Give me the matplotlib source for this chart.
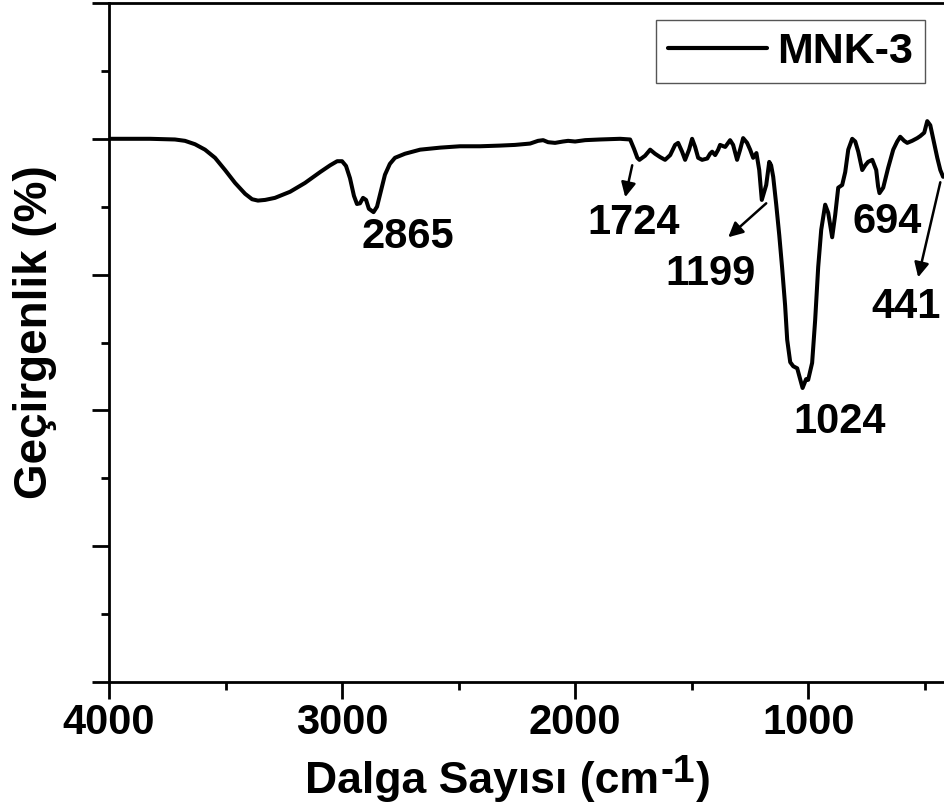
import matplotlib
matplotlib.use("Agg")
import matplotlib.pyplot as plt
from matplotlib.ticker import MultipleLocator

plt.rcParams["font.family"] = ["Liberation Sans", "DejaVu Sans"]
plt.rcParams["font.weight"] = "bold"

# FTIR spectrum of MNK-3: wavenumber (cm-1) and transmittance (%)
wavenumber = [
    4000, 3824, 3717, 3674, 3631, 3588, 3545, 3502, 3459, 3416, 3386, 3361,
    3330, 3288, 3223, 3159, 3094, 3051, 3021, 3000, 2983, 2966, 2949, 2936,
    2923, 2910, 2897, 2885, 2865, 2850, 2834, 2816, 2795, 2773, 2730, 2665,
    2579, 2494, 2408, 2322, 2258, 2193, 2159, 2137, 2116, 2086, 2052, 2030,
    2000, 1957, 1893, 1807, 1764, 1747, 1733, 1724, 1700, 1678, 1657, 1635,
    1614, 1592, 1571, 1558, 1541, 1528, 1511, 1498, 1485, 1472, 1455, 1433,
    1421, 1412, 1399, 1386, 1378, 1356, 1335, 1322, 1305, 1292, 1279, 1262,
    1249, 1236, 1222, 1210, 1199, 1180, 1167, 1159, 1150, 1137, 1124, 1112,
    1099, 1090, 1077, 1064, 1047, 1036, 1024, 1009, 1000, 983, 970, 957,
    944, 927, 914, 897, 884, 871, 854, 841, 828, 811, 798, 785,
    768, 755, 743, 725, 708, 700, 694, 678, 657, 635, 618, 605,
    588, 575, 554, 532, 519, 502, 489, 476, 464, 446, 433, 421,
]
transmittance = [
    80.0, 80.0, 79.9, 79.7, 79.2, 78.4, 77.2, 75.4, 73.5, 71.9, 71.1, 70.9,
    71.0, 71.3, 72.2, 73.5, 75.1, 76.1, 76.7, 76.7, 76.0, 74.2, 71.6, 70.4,
    70.5, 71.3, 71.0, 69.7, 69.2, 70.0, 72.2, 74.7, 76.3, 77.2, 77.8, 78.4,
    78.7, 78.9, 78.9, 79.0, 79.1, 79.3, 79.7, 79.8, 79.5, 79.4, 79.6, 79.7,
    79.6, 79.8, 79.9, 80.0, 79.9, 78.5, 77.2, 76.9, 77.5, 78.4, 77.8, 77.3,
    76.9, 77.6, 79.1, 79.4, 78.1, 76.9, 78.4, 80.0, 78.8, 77.2, 76.9, 77.1,
    77.8, 78.1, 77.6, 78.4, 79.1, 78.8, 79.8, 79.1, 76.9, 78.4, 80.1, 79.4,
    78.4, 77.2, 77.9, 75.4, 71.0, 73.2, 76.6, 76.1, 74.4, 70.3, 65.8, 61.1,
    55.5, 50.4, 47.1, 46.5, 46.2, 44.8, 43.3, 44.6, 44.5, 47.0, 53.3, 61.1,
    66.6, 70.3, 69.1, 65.5, 68.8, 72.8, 73.2, 75.1, 78.4, 80.0, 79.6, 78.1,
    75.4, 76.1, 76.6, 76.9, 75.4, 73.0, 72.0, 72.8, 75.7, 78.4, 79.6, 80.3,
    79.7, 79.4, 79.7, 80.1, 80.4, 80.9, 82.6, 82.0, 80.1, 77.2, 75.4, 74.4,
]

# band labels and where their centres sit (data coordinates)
peak_labels = ["2865", "1724", "1199", "1024", "694", "441"]
label_x = [2717, 1747, 1421, 867, 661, 580]
label_y = [65.5, 67.6, 60.1, 38.3, 67.7, 55.2]

# arrows pointing at weak bands: tail (near the curve) and head
arrow_tail_x = [1755, 1180, 433]
arrow_tail_y = [76.1, 70.5, 73.6]
arrow_head_x = [1785, 1343, 528]
arrow_head_y = [71.4, 65.5, 59.6]

series_name = "MNK-3"
x_label_main = "Dalga Sayısı (cm"
x_label_sup = "-1"
x_label_end = ")"
y_label = "Geçirgenlik (%)"

W, H = 944, 811
fig = plt.figure(figsize=(W / 100, H / 100), dpi=100)
left, right, top, bottom = 109, 948, 3, 682
ax = fig.add_axes([left / W, (H - bottom) / H, (right - left) / W, (bottom - top) / H])

ax.plot(wavenumber, transmittance, color="black", lw=2.9,
        solid_joinstyle="round", solid_capstyle="round", label=series_name)

ax.set_xlim(4000, 400)
ax.set_ylim(0, 100)

ax.xaxis.set_major_locator(MultipleLocator(1000))
ax.xaxis.set_minor_locator(MultipleLocator(500))
ax.yaxis.set_major_locator(MultipleLocator(20))
ax.yaxis.set_minor_locator(MultipleLocator(10))
ax.tick_params(axis="both", which="major", direction="out", length=12, width=2.0,
               labelsize=30, pad=3)
ax.tick_params(axis="both", which="minor", direction="out", length=6, width=2.0)
ax.tick_params(axis="y", which="both", labelleft=False)
ax.tick_params(top=False, right=False, which="both")
for lab in ax.get_xticklabels():
    lab.set_fontweight("bold")

for side in ["left", "bottom", "top"]:
    ax.spines[side].set_linewidth(2.0)
ax.spines["right"].set_visible(False)

ax.set_ylabel(y_label, fontsize=33, fontweight="bold", va="center")
ax.yaxis.set_label_coords(-0.088, 0.515)

# x-axis title with a full-height superscript, laid out piece by piece
renderer = fig.canvas.get_renderer()
base_y = 1 - 793 / H
t1 = fig.text(305 / W, base_y, x_label_main, fontsize=32, fontweight="bold",
              ha="left", va="baseline")
bb1 = t1.get_window_extent(renderer)
t2 = fig.text((bb1.x1 + 1) / W, base_y + 11 / H, x_label_sup, fontsize=28,
              fontweight="bold", ha="left", va="baseline")
bb2 = t2.get_window_extent(renderer)
fig.text((bb2.x1 + 1) / W, base_y, x_label_end, fontsize=32, fontweight="bold",
         ha="left", va="baseline")

for txt, lx, ly in zip(peak_labels, label_x, label_y):
    ax.text(lx, ly, txt, fontsize=30, fontweight="bold", ha="center", va="center")

for tx, ty, hx, hy in zip(arrow_tail_x, arrow_tail_y, arrow_head_x, arrow_head_y):
    ax.annotate("", xy=(hx, hy), xytext=(tx, ty),
                arrowprops=dict(arrowstyle="-|>", color="black", lw=1.8,
                                mutation_scale=22, shrinkA=0, shrinkB=0))

leg = ax.legend(loc="upper right", bbox_to_anchor=(925 / W, 1 - 20 / H),
                bbox_transform=fig.transFigure, borderaxespad=0,
                prop={"size": 31, "weight": "bold"}, handlelength=2.3,
                handletextpad=0.25, borderpad=0.27, fancybox=False,
                framealpha=1, edgecolor="#555555")
leg.get_frame().set_linewidth(1.0)
for line in leg.get_lines():
    line.set_linewidth(3.0)

fig.savefig("out.png", dpi=100)
